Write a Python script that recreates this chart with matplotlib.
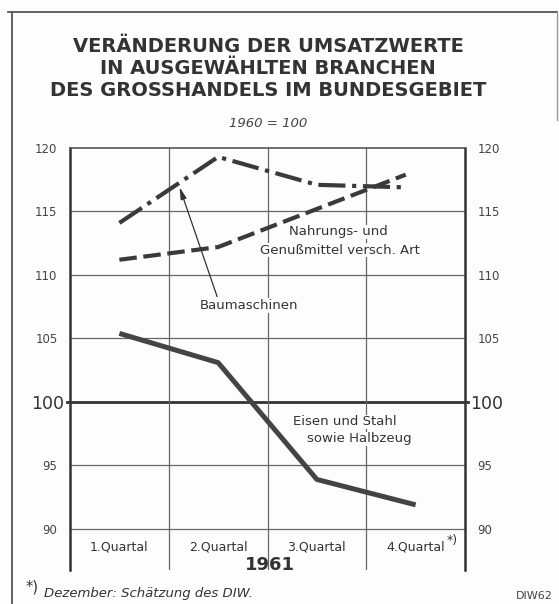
import matplotlib.pyplot as plt
from matplotlib.lines import Line2D

# data, 1961, index 1960 = 100
quarters = ['1.Quartal', '2.Quartal', '3.Quartal', '4.Quartal']
x_pos = [0.5, 1.5, 2.5, 3.5]
x_pos_short = [0.5, 1.5, 2.5, 3.4]
baumaschinen = [114.1, 119.3, 117.1, 116.9]
nahrung = [111.2, 112.2, 115.2, 117.9]
eisen_stahl = [105.4, 103.1, 93.9, 91.9]
yticks = [90, 95, 100, 105, 110, 115, 120]

W, H = 559, 604
ink = '#333333'
plt.rcParams['font.family'] = 'DejaVu Sans'

fig = plt.figure(figsize=(W / 100, H / 100), dpi=100)
fig.patch.set_facecolor('#fdfdfd')


def fx(px):
    return px / W


def fy(py):
    return 1 - py / H


# outer frame
fig.add_artist(Line2D([fx(12), fx(12)], [fy(12), fy(604)], color='#555555', lw=1.3))
fig.add_artist(Line2D([fx(8), fx(557)], [fy(12), fy(12)], color='#555555', lw=1.3))
fig.add_artist(Line2D([fx(557), fx(557)], [fy(12), fy(120)], color='#999999', lw=1.0))

ax = fig.add_axes([fx(70), fy(570), fx(465) - fx(70), fy(148) - fy(570)])
ax.set_facecolor('none')
ax.set_xlim(0, 4)
ax.set_ylim(86.77, 120)

ax.spines['bottom'].set_visible(False)
for s in ['left', 'right']:
    ax.spines[s].set_linewidth(1.8)
    ax.spines[s].set_color(ink)
ax.spines['top'].set_linewidth(1.2)
ax.spines['top'].set_color('#555555')

# grid
for v in [90, 95, 105, 110, 115]:
    ax.axhline(v, color='#666666', lw=0.9, zorder=1)
ax.plot([-0.03, 4.03], [100, 100], color=ink, lw=2.0, clip_on=False, zorder=1)
for v in [1, 2, 3]:
    ax.axvline(v, color='#666666', lw=0.9, zorder=1)

ax.set_xticks([])
ax.set_yticks(yticks)
ax.set_yticklabels([str(t) for t in yticks])
ax.tick_params(axis='y', length=0, labelleft=True, labelright=True,
               labelsize=8.5, labelcolor='#444444', pad=9)
for tl in ax.yaxis.get_major_ticks():
    if tl.label1.get_text() == '100':
        tl.label1.set_fontsize(12.5)
        tl.label2.set_fontsize(12.5)
        tl.label1.set_color(ink)
        tl.label2.set_color(ink)
        tl.set_pad(4)

# series
ax.plot(x_pos_short, baumaschinen, color='#3a3a3a', lw=3,
        linestyle=(0, (6.5, 1.6, 1, 1.6)), zorder=3)
ax.plot(x_pos_short, nahrung, color='#3a3a3a', lw=3,
        linestyle=(0, (4.2, 1.6)), zorder=3)
ax.plot(x_pos, eisen_stahl, color='#444444', lw=3.6, zorder=3,
        solid_capstyle='butt')

# labels inside
lbl = dict(fontsize=9.5, color=ink, ha='center', va='center', zorder=4,
           bbox=dict(facecolor='#fdfdfd', edgecolor='none', pad=0.5))
ax.text(2.72, 113.4, 'Nahrungs- und', **lbl)
ax.text(2.73, 111.95, 'Genußmittel versch. Art', **lbl)
ax.text(1.81, 107.6, 'Baumaschinen', **lbl)
ax.text(2.78, 98.45, 'Eisen und Stahl', **lbl)
ax.text(2.93, 97.1, 'sowie Halbzeug', **lbl)
ax.annotate('', xy=(1.11, 116.9), xytext=(1.49, 108.3),
            arrowprops=dict(arrowstyle='-|>,head_length=0.7,head_width=0.18',
                            color=ink, lw=0.9, shrinkA=0, shrinkB=0))

for i, q in enumerate(quarters):
    ax.text(x_pos[i], 88.6, q, fontsize=9, color=ink, ha='center', va='center')
ax.text(3.87, 89.1, '*)', fontsize=9, color=ink, ha='center', va='center')

# titles
for py, line in [(46, 'VERÄNDERUNG DER UMSATZWERTE'),
                 (68, 'IN AUSGEWÄHLTEN BRANCHEN'),
                 (90, 'DES GROSSHANDELS IM BUNDESGEBIET')]:
    fig.text(fx(268), fy(py), line, fontsize=14, fontweight='bold',
             color=ink, ha='center', va='center')
fig.text(fx(268), fy(124), '1960 = 100', fontsize=9.5, style='italic',
         color='#444444', ha='center', va='center')
fig.text(fx(270), fy(565), '1961', fontsize=13, fontweight='bold',
         color=ink, ha='center', va='center')
fig.text(fx(26), fy(587), '*)', fontsize=10.5, color=ink, ha='left', va='center')
fig.text(fx(44), fy(593), 'Dezember: Schätzung des DIW.', fontsize=9.5,
         style='italic', color=ink, ha='left', va='center')
fig.text(fx(553), fy(596), 'DIW62', fontsize=8, color='#444444',
         ha='right', va='center')

plt.savefig('out.png', dpi=100, facecolor=fig.get_facecolor())
